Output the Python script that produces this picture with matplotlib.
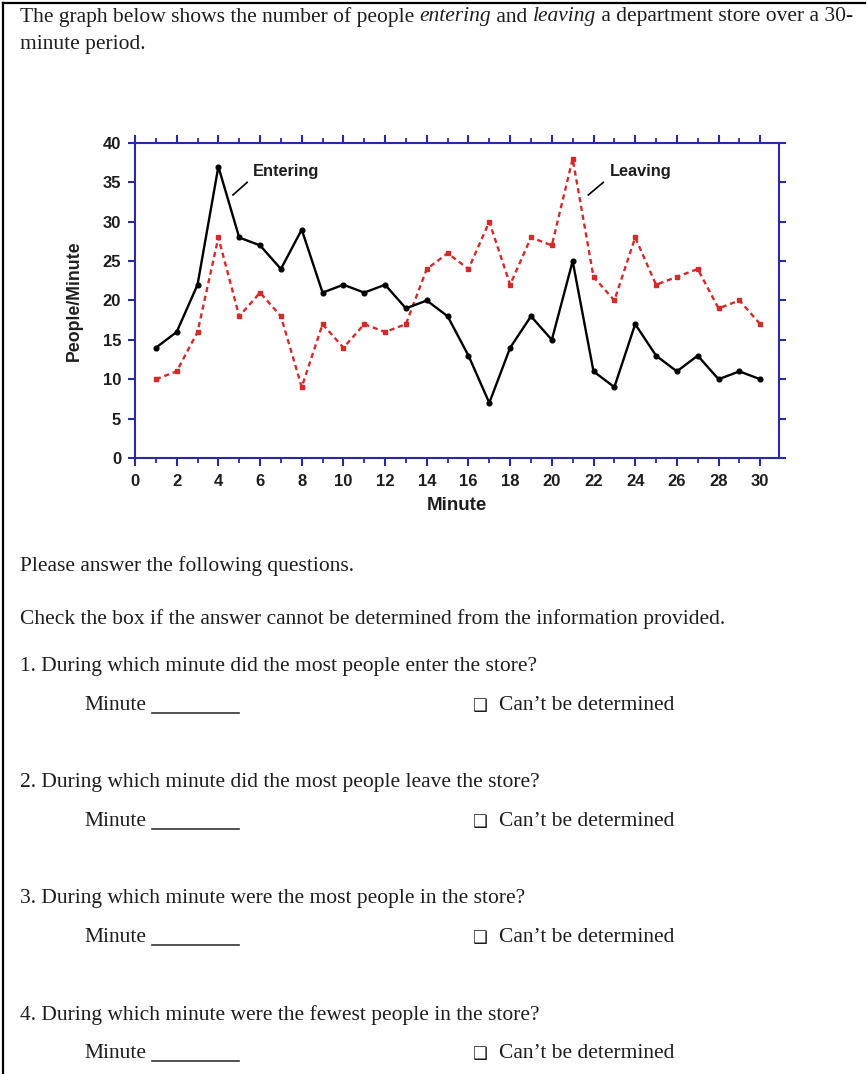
import matplotlib

matplotlib.use("Agg")
import matplotlib.pyplot as plt
from matplotlib.lines import Line2D
from matplotlib.ticker import MultipleLocator

minutes = list(range(1, 31))
entering = [14, 16, 22, 37, 28, 27, 24, 29, 21, 22, 21, 22, 19, 20, 18,
            13, 7, 14, 18, 15, 25, 11, 9, 17, 13, 11, 13, 10, 11, 10]
leaving = [10, 11, 16, 28, 18, 21, 18, 9, 17, 14, 17, 16, 17, 24, 26,
           24, 30, 22, 28, 27, 38, 23, 20, 28, 22, 23, 24, 19, 20, 17]

intro = ["The graph below shows the number of people ",
         "entering", " and ", "leaving",
         " a department store over a 30-"]
questions = [
    "1. During which minute did the most people enter the store?",
    "2. During which minute did the most people leave the store?",
    "3. During which minute were the most people in the store?",
    "4. During which minute were the fewest people in the store?",
]

C_AXIS = "#2a2aa6"
C_LEAVE = "#d42a2a"
C_TXT = "#1e1e1e"
SERIF = "Liberation Serif"
SANS = "Liberation Sans"

W, H = 867, 1074
fig = plt.figure(figsize=(W / 100, H / 100), dpi=100)


def fx(px):
    return px / W


def fy(py):
    return 1 - py / H


# ---- page border (left + top only)
fig.add_artist(Line2D([fx(3), fx(3)], [fy(3), fy(H)], color="black", lw=1.6))
fig.add_artist(Line2D([fx(3), fx(865)], [fy(3), fy(3)], color="black", lw=1.6))

# ---- intro sentence, mixed roman/italic
TXT = 15.5
x = fx(20)
renderer = fig.canvas.get_renderer()
for i, part in enumerate(intro):
    t = fig.text(x, fy(17), part, fontsize=TXT, family=SERIF, va="center", color=C_TXT,
                 style="italic" if i in (1, 3) else "normal")
    bb = t.get_window_extent(renderer=renderer)
    x += bb.width / W
fig.text(fx(20), fy(44), "minute period.", fontsize=TXT, family=SERIF, va="center",
         color=C_TXT)

# ---- chart
ax = fig.add_axes([fx(135), fy(458), fx(779) - fx(135), fy(143) - fy(458)])
ax.plot(minutes, entering, "-o", color="black", lw=1.7, ms=3.4, zorder=4)
ax.plot(minutes, leaving, "--s", color=C_LEAVE, lw=1.7, ms=3.4,
        dashes=(2.2, 1.6), zorder=3)

ax.set_xlim(0, 30.9)
ax.set_ylim(0, 40)
ax.xaxis.set_major_locator(MultipleLocator(2))
ax.xaxis.set_minor_locator(MultipleLocator(1))
ax.yaxis.set_major_locator(MultipleLocator(5))
for sp in ax.spines.values():
    sp.set_color(C_AXIS)
    sp.set_linewidth(1.5)
ax.tick_params(axis="x", which="major", direction="out", length=6, width=1.5,
               color=C_AXIS, top=True, bottom=True, labeltop=False, pad=5.5)
ax.tick_params(axis="x", which="minor", direction="out", length=3.5, width=1.3,
               color=C_AXIS, top=True, bottom=True)
ax.tick_params(axis="y", which="major", direction="out", length=5, width=1.5,
               color=C_AXIS, left=True, right=True, labelright=False, pad=5)
for lab in ax.get_xticklabels() + ax.get_yticklabels():
    lab.set_fontfamily(SANS)
    lab.set_fontweight("bold")
    lab.set_fontsize(12)
    lab.set_color(C_TXT)

ax.set_xlabel("Minute", family=SANS, fontweight="bold", fontsize=13.5,
              color=C_TXT, labelpad=6)
ax.set_ylabel("People/Minute", family=SANS, fontweight="bold", fontsize=12.8,
              color=C_TXT, labelpad=14)

# series labels with short leader lines
ax.text(5.66, 36.4, "Entering", family=SANS, fontweight="bold", fontsize=11.8,
        va="center", color=C_TXT)
ax.plot([4.7, 5.38], [33.4, 35.0], color="black", lw=1.2)
ax.text(22.8, 36.4, "Leaving", family=SANS, fontweight="bold", fontsize=11.8,
        va="center", color=C_TXT)
ax.plot([21.75, 22.47], [33.4, 35.0], color="black", lw=1.2)

# ---- questions
fig.text(fx(20), fy(566), "Please answer the following questions.", fontsize=TXT,
         family=SERIF, va="center", color=C_TXT)
fig.text(fx(20), fy(619),
         "Check the box if the answer cannot be determined from the information provided.",
         fontsize=TXT, family=SERIF, va="center", color=C_TXT)
for i, q in enumerate(questions):
    y0 = 667 + 116 * i
    fig.text(fx(20), fy(y0), q, fontsize=TXT, family=SERIF, va="center", color=C_TXT)
    fig.text(fx(84), fy(y0 + 39), "Minute", fontsize=TXT, family=SERIF, va="center",
             color=C_TXT)
    fig.add_artist(Line2D([fx(152), fx(239)], [fy(y0 + 46), fy(y0 + 46)],
                          color="#333333", lw=1.2))
    fig.text(fx(479), fy(y0 + 39), "\u2751", fontsize=12, va="center", ha="center",
             family=["DejaVu Sans"], color=C_TXT)
    fig.text(fx(499), fy(y0 + 39), "Can\u2019t be determined", fontsize=TXT,
             family=SERIF, va="center", color=C_TXT)

fig.savefig("out.png", dpi=100)
